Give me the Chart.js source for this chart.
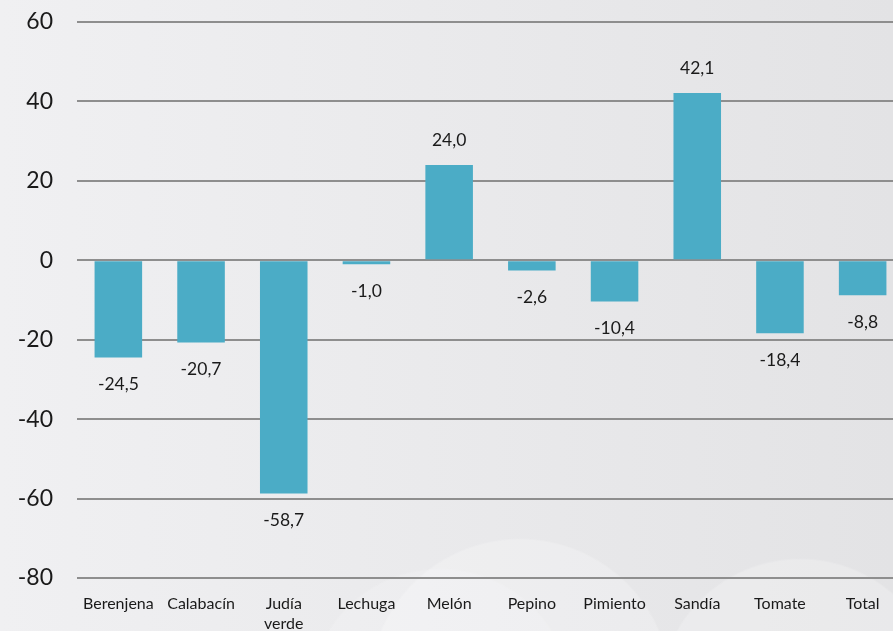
<!DOCTYPE html>
<html><head><meta charset="utf-8">
<script src="https://cdn.jsdelivr.net/npm/chart.js@4/dist/chart.umd.min.js"></script>
<style>
html,body{margin:0;padding:0;overflow:hidden;width:893px;height:631px;}
body{background:
 radial-gradient(circle at 520px 690px, rgba(255,255,255,0.22) 0 150px, rgba(255,255,255,0) 152px),
 radial-gradient(circle at 800px 700px, rgba(255,255,255,0.22) 0 140px, rgba(255,255,255,0) 142px),
 radial-gradient(circle at 440px 700px, rgba(255,255,255,0.15) 0 130px, rgba(255,255,255,0) 132px),
 linear-gradient(90deg,#f0f0f2 0%,#ebebed 40%,#e3e3e5 100%);}
#wrap{position:absolute;left:0;top:0;width:904px;height:631px;}
</style></head>
<body><div id="wrap"><canvas id="c"></canvas></div>
<script>
const categories = ["Berenjena","Calabacín",["Judía","verde"],"Lechuga","Melón","Pepino","Pimiento","Sandía","Tomate","Total"];
const values = [-24.5,-20.7,-58.7,-1.0,24.0,-2.6,-10.4,42.1,-18.4,-8.8];
const yMin = -80, yMax = 60, yStep = 20;

const FONT = "Lato, 'Open Sans', sans-serif";
const fmt = v => v.toFixed(1).replace('.', ',');

const labelPlugin = {
  id: 'valLabels',
  afterDatasetsDraw(chart) {
    const ctx = chart.ctx;
    const meta = chart.getDatasetMeta(0);
    ctx.save();
    ctx.font = "17.5px " + FONT;
    ctx.fillStyle = "#1a1a1a";
    ctx.textAlign = "center";
    ctx.textBaseline = "middle";
    meta.data.forEach((bar, i) => {
      const v = values[i];
      const y = v >= 0 ? bar.y - 25 : bar.y + 27;
      ctx.fillText(fmt(v), bar.x, y);
    });
    ctx.restore();
  }
};

new Chart(document.getElementById('c'), {
  type: 'bar',
  data: { labels: categories, datasets: [{ data: values, backgroundColor: '#4bacc6', categoryPercentage: 1, barPercentage: 0.575 }] },
  options: {
    responsive: true, maintainAspectRatio: false, animation: false,
    layout: { padding: { top: 22, right: 0, left: 0, bottom: 0 } },
    plugins: { legend: { display: false }, tooltip: { enabled: false } },
    scales: {
      x: {
        grid: { display: false, drawTicks: false },
        border: { display: false },
        ticks: { font: { family: FONT, size: 16, lineHeight: 1.3 }, color: '#1a1a1a', padding: 15, maxRotation: 0, autoSkip: false },
        afterFit(s) { s.height = 53; }
      },
      y: {
        min: yMin, max: yMax,
        grid: { color: '#8e8e8e', lineWidth: 2, drawTicks: false },
        border: { display: false },
        ticks: { stepSize: yStep, font: { family: FONT, size: 23 }, color: '#1a1a1a', padding: 24 },
        afterFit(s) { s.width = 77; s.paddingTop = 0; s.paddingBottom = 0; }
      }
    }
  },
  plugins: [labelPlugin]
});
</script></body></html>
